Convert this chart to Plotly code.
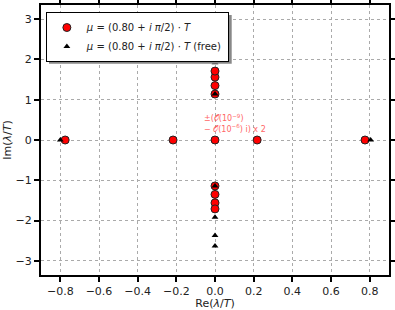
import plotly.graph_objects as go

# Eigenvalues, mu = (0.80 + i pi/2) T
mu_re = [-0.775, -0.217, 0.0, 0.218, 0.776, 0.0, 0.0, 0.0, 0.0, 0.0, 0.0, 0.0, 0.0]
mu_im = [0.0, 0.0, 0.0, 0.0, 0.0, 1.14, 1.35, 1.56, 1.71, -1.14, -1.35, -1.56, -1.71]
# Free case
free_re = [-0.80, 0.805, 0.0, 0.0, 0.0, 0.0, 0.0, 0.0, 0.0, 0.0]
free_im = [0.0, 0.0, 1.14, 1.92, 2.37, 2.63, -1.14, -1.92, -2.37, -2.63]

x_ticks = [-0.8, -0.6, -0.4, -0.2, 0.0, 0.2, 0.4, 0.6, 0.8]
y_ticks = [-3, -2, -1, 0, 1, 2, 3]

legend_mu = "<i>μ</i> = (0.80 + <i>i π</i>/2) · <i>T</i>"
legend_free = "<i>μ</i> = (0.80 + <i>i π</i>/2) · <i>T</i> (free)"
note = "±(𝒪(10<sup>−9</sup>)<br>− 𝒪(10<sup>−6</sup>) i) x 2"

font = "DejaVu Sans"

fig = go.Figure()
fig.add_trace(go.Scatter(x=mu_re, y=mu_im, mode="markers", name=legend_mu,
                         marker=dict(symbol="circle", size=8, color="#ff0000",
                                     line=dict(color="#222222", width=1))))
fig.add_trace(go.Scatter(x=free_re, y=free_im, mode="markers", name=legend_free,
                         marker=dict(symbol="triangle-up", size=6, color="black",
                                     line=dict(width=0))))

axis_common = dict(showgrid=True, gridcolor="#aaaaaa", griddash="dot", gridwidth=1,
                   zeroline=False, showline=True, linecolor="black", linewidth=2,
                   mirror="ticks", ticks="outside", ticklen=5, tickwidth=2,
                   tickcolor="black", automargin=False,
                   tickfont=dict(family=font, size=11, color="#222"))

fig.update_xaxes(range=[-0.9, 0.9], tickvals=x_ticks, tickformat=".1f",
                 title=dict(text="Re(<i>λ</i>/<i>T</i>)", font=dict(family=font, size=11, color="#222"),
                            standoff=1),
                 **axis_common)
fig.update_yaxes(range=[-3.35, 3.35], tickvals=y_ticks,
                 title=dict(text="Im(<i>λ</i>/<i>T</i>)", font=dict(family=font, size=11, color="#222"),
                            standoff=2),
                 **axis_common)

fig.add_annotation(x=0.0, y=0.0, xref="x", yref="y", text=note, showarrow=False,
                   xanchor="left", yanchor="bottom", xshift=-13, yshift=4, align="left",
                   font=dict(family=font, size=8, color="#ff6666"))

# legend shadow (drawn behind the legend box, offset by ~3px)
fig.add_shape(type="rect", xref="paper", yref="paper", x0=0.023, x1=0.548, y0=0.782, y1=0.963,
              fillcolor="#888888", line=dict(width=0), layer="above")

fig.update_layout(
    width=395, height=310,
    margin=dict(l=41, r=6, t=5, b=35),
    plot_bgcolor="white", paper_bgcolor="white",
    showlegend=True,
    legend=dict(x=0.014, y=0.974, xanchor="left", yanchor="top",
                bgcolor="white", bordercolor="black", borderwidth=1,
                font=dict(family=font, size=10, color="#222"),
                itemsizing="trace", tracegroupgap=0),
)

fig.write_html("out.html", config={"displayModeBar": False},
               post_script="document.body.style.margin='0';document.body.style.overflow='hidden';")
